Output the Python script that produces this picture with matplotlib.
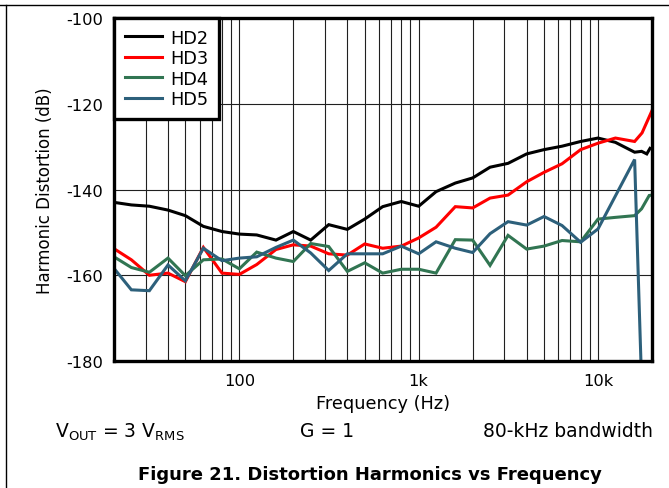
import numpy as np
import matplotlib
matplotlib.use("Agg")
import matplotlib.pyplot as plt
from matplotlib.lines import Line2D
from matplotlib.ticker import FixedLocator, NullFormatter

plt.rcParams['font.family'] = ['DejaVu Sans']
plt.rcParams['axes.unicode_minus'] = False

# third-octave frequencies used by every trace (Hz)
freq = [20, 25, 31.5, 40, 50, 63, 80, 100, 125, 160, 200, 250, 315, 400, 500,
        630, 800, 1000, 1250, 1600, 2000, 2500, 3150, 4000, 5000, 6300, 8000, 10000]

hd2_tail_f = [12500, 16000, 17500, 18700, 19500]
hd2_db = [-143.0, -143.6, -143.9, -144.8, -146.1, -148.6, -149.8, -150.4, -150.6, -151.8,
          -149.8, -151.8, -148.2, -149.3, -146.9, -144.0, -142.8, -143.9, -140.5, -138.5,
          -137.3, -134.8, -133.9, -131.7, -130.7, -129.9, -128.8, -128.0,
          -129.0, -131.3, -131.1, -131.7, -130.4]

hd3_tail_f = [12500, 16000, 17600, 20000]
hd3_db = [-153.8, -156.4, -160.0, -159.5, -161.5, -153.5, -159.5, -159.8, -157.5, -154.0,
          -152.9, -153.2, -155.0, -155.3, -152.7, -153.7, -153.2, -151.3, -148.8, -144.0,
          -144.3, -142.0, -141.3, -138.2, -136.0, -134.0, -130.7, -129.2,
          -128.0, -128.8, -126.8, -121.6]

hd4_tail_f = [12500, 16000, 17500, 19300, 20000]
hd4_db = [-155.7, -158.2, -159.3, -156.0, -160.1, -156.4, -156.2, -158.5, -154.6, -156.0,
          -156.8, -152.6, -153.3, -159.1, -157.1, -159.5, -158.6, -158.6, -159.5, -151.7,
          -151.8, -157.7, -150.7, -153.9, -153.2, -151.9, -152.2, -146.9,
          -146.5, -146.1, -144.5, -141.4, -141.3]

hd5_tail_f = [16000, 17800]
hd5_db = [-158.4, -163.4, -163.6, -157.6, -161.3, -153.7, -156.6, -156.0, -155.7, -153.5,
          -151.8, -154.8, -158.9, -155.0, -155.0, -155.0, -153.2, -155.0, -152.2, -153.7,
          -154.7, -150.3, -147.5, -148.3, -146.3, -148.4, -152.3, -149.2,
          -133.0, -195.0]

series = [
    ('HD2', freq + hd2_tail_f, hd2_db, 'black'),
    ('HD3', freq + hd3_tail_f, hd3_db, '#ff0000'),
    ('HD4', freq + hd4_tail_f, hd4_db, '#317552'),
    ('HD5', freq + hd5_tail_f, hd5_db, '#2d607b'),
]

x_major = [100, 1000, 10000]
x_labels = ['100', '1k', '10k']
y_major = [-180, -160, -140, -120, -100]

fig = plt.figure(figsize=(6.69, 4.89), dpi=100)
ax = fig.add_axes([114 / 669, 1 - 362 / 489, (652 - 114) / 669, (362 - 19) / 489])

for name, f, db, c in series:
    ax.plot(f, db, color=c, linewidth=2.2, label=name, solid_joinstyle='miter', zorder=3)

ax.set_xscale('log')
ax.set_xlim(20, 20000)
ax.set_ylim(-180, -100)

ax.set_xticks(x_major)
ax.set_xticklabels(x_labels)
minors = [m * d for d in [10, 100, 1000, 10000] for m in range(2, 10) if 20 <= m * d <= 20000]
ax.xaxis.set_minor_locator(FixedLocator(minors))
ax.xaxis.set_minor_formatter(NullFormatter())
ax.set_yticks(y_major)
ax.set_yticklabels([str(v) for v in y_major])

ax.grid(True, which='both', axis='x', color='#202020', linewidth=0.8)
ax.grid(True, which='major', axis='y', color='#202020', linewidth=0.8)
ax.tick_params(which='both', length=0, labelsize=11.7)
ax.tick_params(axis='x', pad=9)
ax.tick_params(axis='y', pad=8)

for s in ax.spines.values():
    s.set_linewidth(2.4)
    s.set_zorder(5)

ax.set_xlabel('Frequency (Hz)', fontsize=12.8, labelpad=4)
ax.set_ylabel('Harmonic Distortion (dB)', fontsize=12, labelpad=9)

leg = ax.legend(loc='upper left', borderaxespad=0, fontsize=12.8, fancybox=False,
                framealpha=1, edgecolor='black', handlelength=2.1, handletextpad=0.45,
                labelspacing=0.14, borderpad=0.6)
leg.get_frame().set_linewidth(2.4)
leg.set_zorder(6)

fig.text(55 / 669, 1 - 432 / 489, r'V$_{\mathregular{OUT}}$ = 3 V$_{\mathregular{RMS}}$',
         fontsize=13.5, va='center', ha='left')
fig.text(327 / 669, 1 - 432 / 489, 'G = 1', fontsize=13.5, va='center', ha='center')
fig.text(653 / 669, 1 - 432 / 489, '80-kHz bandwidth', fontsize=13.5, va='center', ha='right')
fig.text(370 / 669, 1 - 475 / 489, 'Figure 21. Distortion Harmonics vs Frequency',
         fontsize=13, fontweight='bold', va='center', ha='center')

# page border lines
fig.add_artist(Line2D([0, 1], [1 - 6 / 489, 1 - 6 / 489], transform=fig.transFigure,
                      color='black', linewidth=1.0))
fig.add_artist(Line2D([6 / 669, 6 / 669], [0, 1 - 6 / 489], transform=fig.transFigure,
                      color='black', linewidth=1.0))

fig.savefig('out.png', dpi=100)
